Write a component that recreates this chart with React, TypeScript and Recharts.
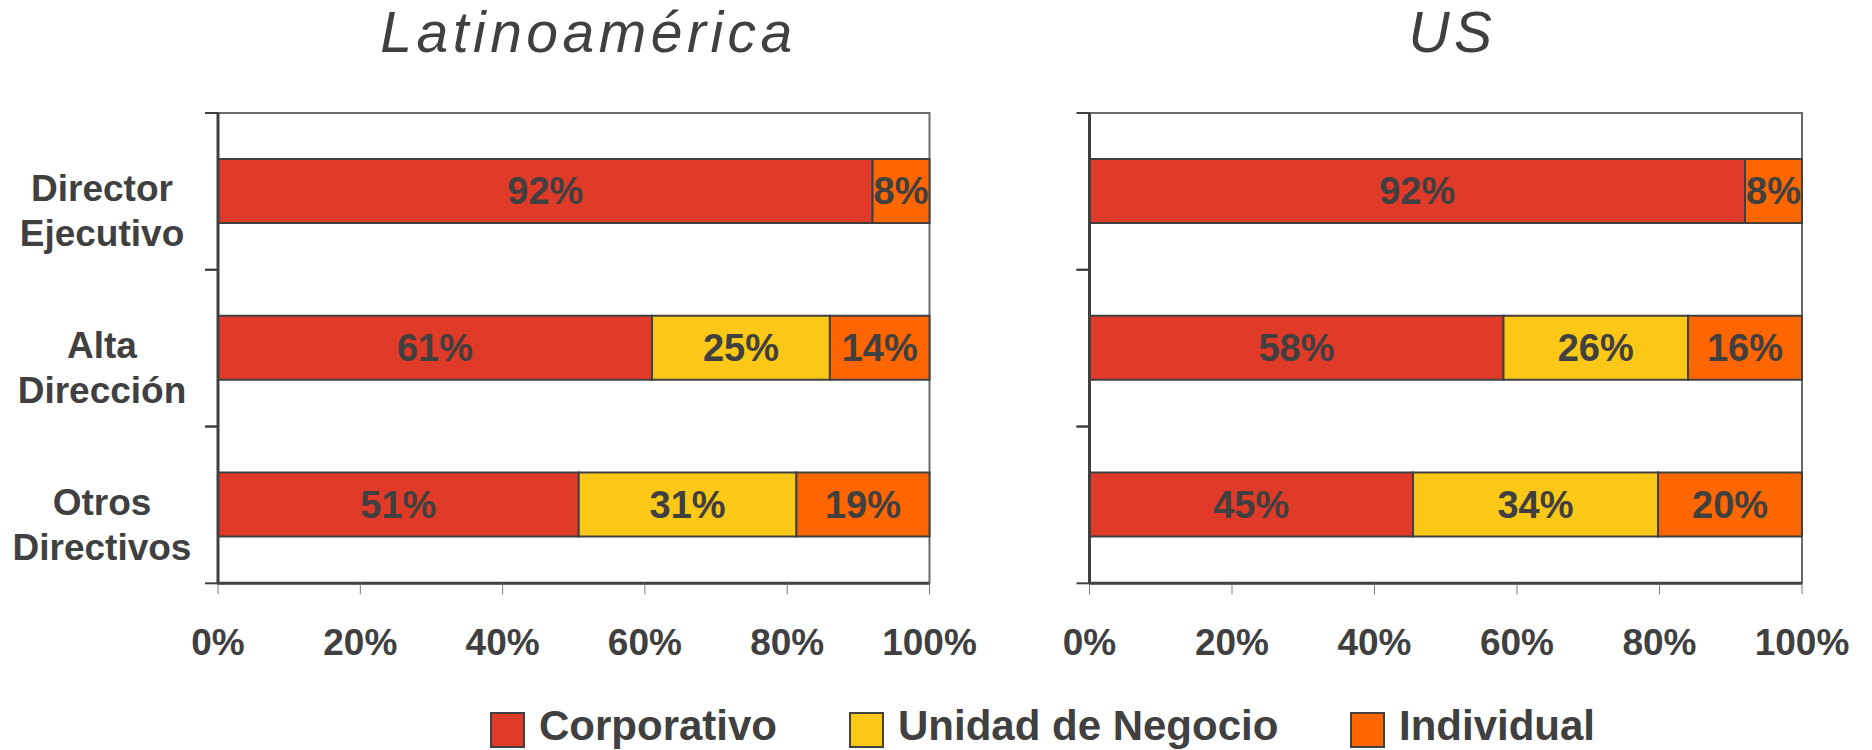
import React from 'react';
import { BarChart, Bar, XAxis, YAxis, LabelList, ReferenceArea } from 'recharts';

const categories = ['Director Ejecutivo', 'Alta Dirección', 'Otros Directivos'];
const seriesNames = ['Corporativo', 'Unidad de Negocio', 'Individual'];
const seriesKeys = ['corp', 'unit', 'indiv'];
const seriesColors = ['#E03A28', '#FCC817', '#FF6600'];

const latamCorporativo = [92, 61, 50.7];
const latamUnidad = [0, 25, 30.6];
const latamIndividual = [8, 14, 18.7];

const usCorporativo = [92, 58.1, 45.4];
const usUnidad = [0, 25.9, 34.4];
const usIndividual = [8, 16, 20.2];

const xTicks = [0, 20, 40, 60, 80, 100];
const titles = ['Latinoamérica', 'US'];

const FONT = '"Liberation Sans", Arial, sans-serif';
const TEXT = '#404040';

const buildData = (a: number[], b: number[], c: number[]) =>
  categories.map((name, i) => ({ name, corp: a[i], unit: b[i], indiv: c[i] }));

const latamData = buildData(latamCorporativo, latamUnidad, latamIndividual);
const usData = buildData(usCorporativo, usUnidad, usIndividual);

const fmt = (v: any) => (v ? `${Math.round(Number(v))}%` : '');
const fmtTick = (v: any) => `${v}%`;

const YTick = (props: any) => {
  const { x, y, payload, showLabel, labelX } = props;
  const half = payload && payload.offset ? payload.offset : 78.3;
  const lines = String(payload.value).split(' ');
  return (
    <g>
      <line x1={x - 13} x2={x} y1={y - half} y2={y - half} stroke={TEXT} strokeWidth={2} />
      <line x1={x - 13} x2={x} y1={y + half} y2={y + half} stroke={TEXT} strokeWidth={2} />
      {showLabel &&
        lines.map((ln, i) => (
          <text
            key={i}
            x={labelX}
            y={y + 10 + i * 45}
            textAnchor="middle"
            fill={TEXT}
            fontSize={37}
            fontWeight="bold"
            fontFamily={FONT}
          >
            {ln}
          </text>
        ))}
    </g>
  );
};

function Panel(props: {
  data: any[];
  left: number;
  width: number;
  yWidth: number;
  marginRight: number;
  showLabels: boolean;
  labelX: number;
}) {
  const { data, left, width, yWidth, marginRight, showLabels, labelX } = props;
  const height = 700;
  return (
    <div style={{ position: 'absolute', left, top: 0, width, height }}>
      <BarChart
        width={width}
        height={height}
        data={data}
        layout="vertical"
        margin={{ top: 113, right: marginRight, bottom: 56.7, left: 0 }}
        style={{ fontFamily: FONT }}
      >
        <ReferenceArea x1={0} x2={100} fill="none" stroke="#6a6a6a" strokeWidth={2} ifOverflow="visible" />
        <XAxis
          type="number"
          domain={[0, 100]}
          ticks={xTicks}
          interval={0}
          tickFormatter={fmtTick}
          height={60}
          tickSize={11}
          tickMargin={34}
          axisLine={{ stroke: TEXT, strokeWidth: 3 }}
          tickLine={{ stroke: '#7a7a7a', strokeWidth: 1 }}
          tick={{ fontSize: 37, fontWeight: 'bold', fill: TEXT, fontFamily: FONT }}
        />
        <YAxis
          type="category"
          dataKey="name"
          width={yWidth}
          tickSize={0}
          tickMargin={0}
          tickLine={false}
          interval={0}
          axisLine={{ stroke: TEXT, strokeWidth: 3 }}
          tick={<YTick showLabel={showLabels} labelX={labelX} />}
        />
        {seriesKeys.map((k, i) => (
          <Bar
            key={k}
            dataKey={k}
            name={seriesNames[i]}
            stackId="s"
            fill={seriesColors[i]}
            stroke={TEXT}
            strokeWidth={2}
            barSize={64}
            isAnimationActive={false}
          >
            <LabelList
              dataKey={k}
              position="center"
              formatter={fmt}
              fill={TEXT}
              fontSize={38}
              fontWeight="bold"
              fontFamily={FONT}
            />
          </Bar>
        ))}
      </BarChart>
    </div>
  );
}

const titleStyle: React.CSSProperties = {
  position: 'absolute',
  top: 4,
  width: 600,
  textAlign: 'center',
  fontFamily: FONT,
  fontStyle: 'italic',
  fontSize: 57,
  lineHeight: '57px',
  letterSpacing: 4.5,
  paddingLeft: 4.5,
  color: TEXT,
  whiteSpace: 'nowrap',
};

const legendStarts = [490, 849, 1350];

export default function App() {
  return (
    <div
      style={{
        position: 'absolute',
        left: 0,
        top: 0,
        width: 1872,
        height: 750,
        background: '#fff',
        overflow: 'hidden',
        fontFamily: FONT,
      }}
    >
      <div style={{ ...titleStyle, left: 284 }}>{titles[0]}</div>
      <div style={{ ...titleStyle, left: 1148 }}>{titles[1]}</div>
      <Panel data={latamData} left={0} width={1000} yWidth={218} marginRight={70.5} showLabels labelX={102} />
      <Panel data={usData} left={1000} width={872} yWidth={89.5} marginRight={70} showLabels={false} labelX={0} />
      {seriesNames.map((n, i) => (
        <div
          key={n}
          style={{
            position: 'absolute',
            left: legendStarts[i],
            top: 707,
            height: 37,
            display: 'flex',
            alignItems: 'flex-start',
            whiteSpace: 'nowrap',
          }}
        >
          <div
            style={{
              width: 31,
              height: 32,
              marginTop: 5,
              background: seriesColors[i],
              border: `2px solid ${TEXT}`,
              marginRight: 14,
            }}
          />
          <span style={{ fontSize: 42, fontWeight: 'bold', color: TEXT, lineHeight: '37px' }}>{n}</span>
        </div>
      ))}
    </div>
  );
}
